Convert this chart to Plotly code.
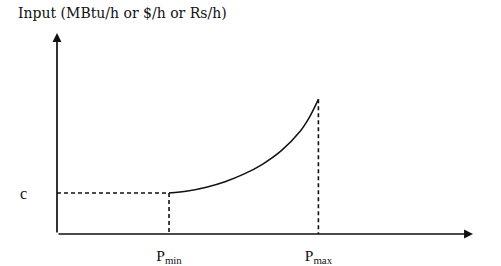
import plotly.graph_objects as go

# Data
p_min = 30
p_max = 70
c_val = 30
curve_p = [30, 35, 40, 45, 50, 55, 60, 65, 67.5, 70]
curve_f = [30, 31.5, 34.25, 38.25, 43.75, 51, 60.75, 74.75, 85, 98.5]
x_tick_vals = [p_min, p_max]
x_tick_text = ["P<sub>min</sub>", "P<sub>max</sub>"]
y_tick_vals = [c_val]
y_tick_text = ["c"]
title_text = "Input (MBtu/h or $/h or Rs/h)"

x_end = 111.4
y_end = 147.0

FONT = "Liberation Serif"
TITLE_FONT = "DejaVu Serif"
INK = "#111111"

fig = go.Figure()

# dashed guide lines
fig.add_trace(go.Scatter(x=[0, p_min, p_min], y=[c_val, c_val, 0], mode="lines",
                         line=dict(color=INK, width=1.6, dash="4px,3px"),
                         hoverinfo="skip", showlegend=False, cliponaxis=False))
fig.add_trace(go.Scatter(x=[p_max, p_max], y=[curve_f[-1], 0], mode="lines",
                         line=dict(color=INK, width=1.6, dash="4px,3px"),
                         hoverinfo="skip", showlegend=False, cliponaxis=False))
# cost curve
fig.add_trace(go.Scatter(x=curve_p, y=curve_f, mode="lines",
                         line=dict(color=INK, width=1.5, shape="spline", smoothing=1.0),
                         hoverinfo="skip", showlegend=False, cliponaxis=False))

# axes with arrows
arrow_common = dict(xref="x", yref="y", axref="x", ayref="y", text="",
                    showarrow=True, arrowhead=2, arrowsize=1.05, arrowwidth=1.7,
                    arrowcolor=INK, standoff=0, startstandoff=0)
fig.add_annotation(x=x_end, y=0, ax=0, ay=0, **arrow_common)
fig.add_annotation(x=0, y=y_end, ax=0, ay=0, **arrow_common)

fig.update_layout(
    width=501, height=266,
    margin=dict(l=57, r=28, t=33, b=32, autoexpand=False),
    paper_bgcolor="white", plot_bgcolor="white",
    font=dict(family=FONT, color=INK, size=15),
    title=dict(text=title_text, x=18 / 501, xanchor="left", xref="container",
               y=1 - 13 / 266, yanchor="middle", yref="container",
               font=dict(family=TITLE_FONT, size=14, color=INK)),
    xaxis=dict(range=[0, x_end], showgrid=False, zeroline=False, showline=False,
               tickvals=x_tick_vals, ticktext=x_tick_text, ticks="",
               ticklabelstandoff=10, tickfont=dict(size=15.5, family=FONT, color=INK)),
    yaxis=dict(range=[0, y_end], showgrid=False, zeroline=False, showline=False,
               tickvals=y_tick_vals, ticktext=y_tick_text, ticks="",
               ticklabelstandoff=29, tickfont=dict(size=16, family=FONT, color=INK)),
)

fig.write_html("out.html")
